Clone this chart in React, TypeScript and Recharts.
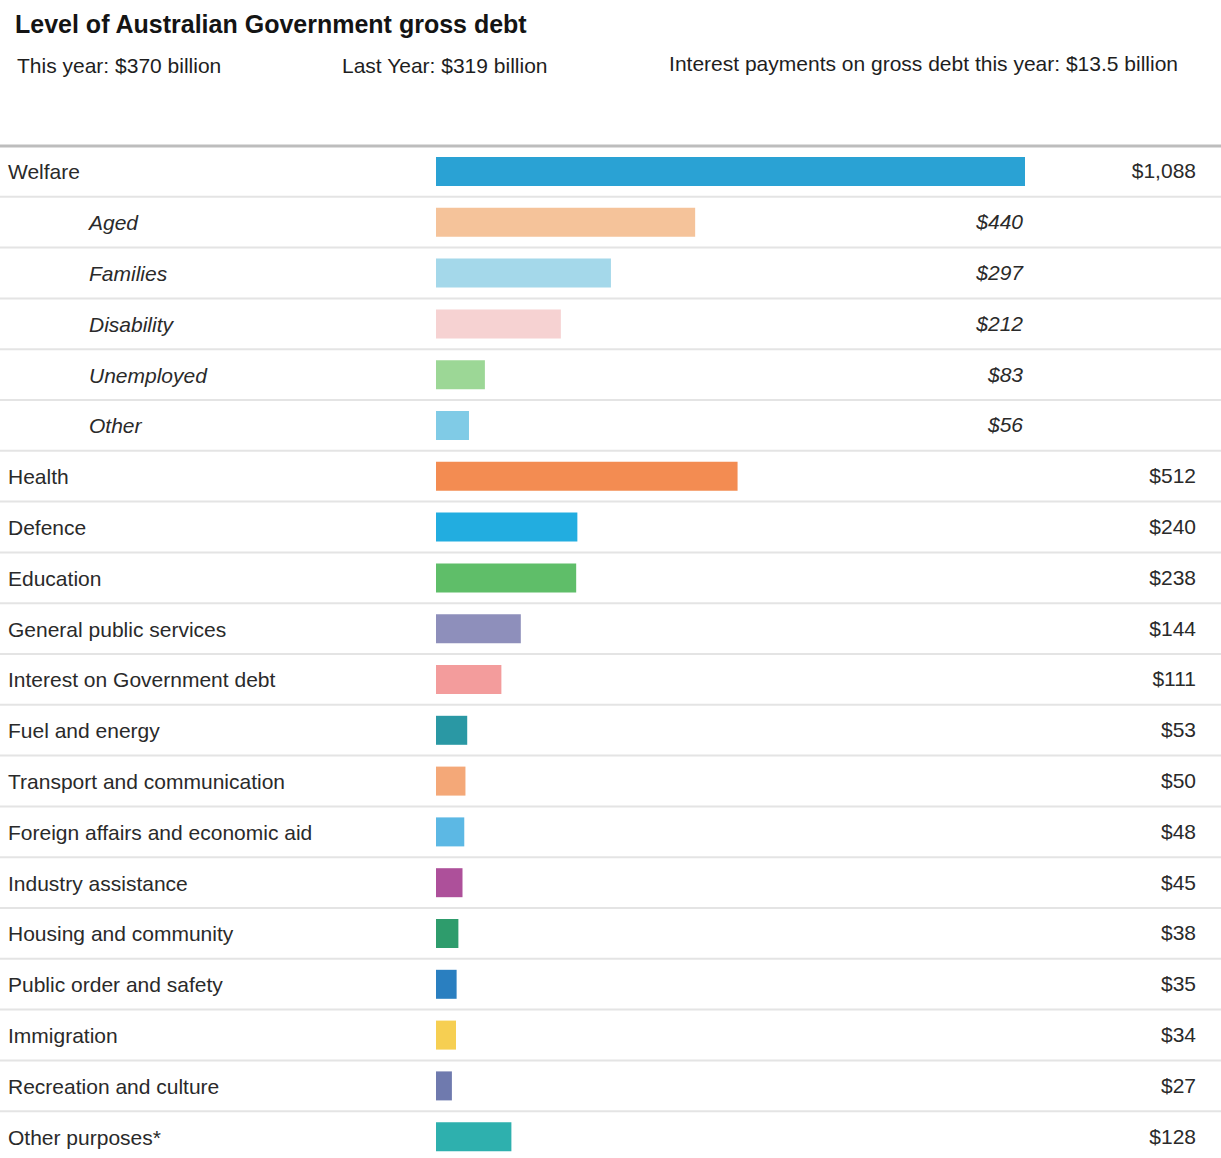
import React from 'react';
import { BarChart, Bar, XAxis, YAxis, Cell } from 'recharts';

const categories = [
  'Welfare', 'Aged', 'Families', 'Disability', 'Unemployed', 'Other',
  'Health', 'Defence', 'Education', 'General public services',
  'Interest on Government debt', 'Fuel and energy', 'Transport and communication',
  'Foreign affairs and economic aid', 'Industry assistance', 'Housing and community',
  'Public order and safety', 'Immigration', 'Recreation and culture', 'Other purposes*',
];
const values = [1088, 440, 297, 212, 83, 56, 512, 240, 238, 144, 111, 53, 50, 48, 45, 38, 35, 34, 27, 128];
const valueLabels = [
  '$1,088', '$440', '$297', '$212', '$83', '$56', '$512', '$240', '$238', '$144',
  '$111', '$53', '$50', '$48', '$45', '$38', '$35', '$34', '$27', '$128',
];
const isSub = [false, true, true, true, true, true, false, false, false, false, false, false, false, false, false, false, false, false, false, false];
const colors = [
  '#2aa2d4', '#f5c39a', '#a4d8ea', '#f6d2d2', '#9cd796', '#80cbe6',
  '#f38c52', '#22ade0', '#5fbe69', '#8e8fbb', '#f39c9c', '#2a98a4',
  '#f4a878', '#5cb8e4', '#ad509a', '#2e9c6c', '#2a7fc0', '#f6cf52',
  '#6f7aae', '#2eb0ae',
];

const headerTitle = 'Level of Australian Government gross debt';
const headerThisYear = 'This year: $370 billion';
const headerLastYear = 'Last Year: $319 billion';
const headerInterest = 'Interest payments on gross debt this year: $13.5 billion';

const data = categories.map((name, i) => ({
  name,
  value: values[i],
  label: valueLabels[i],
  sub: isSub[i],
}));

const FONT = '"Liberation Sans", Arial, Helvetica, sans-serif';
const W = 1221;
const H = 1162;

const RowTick = (props: any) => {
  const { y, payload, index } = props;
  const row = data.find((d) => d.name === payload.value) || data[index];
  const half = typeof payload.offset === 'number' && payload.offset > 0 ? payload.offset : 25.4;
  return (
    <g>
      {index === 0 && (
        <line x1={0} x2={W} y1={y - half} y2={y - half} stroke="#bdbdbd" strokeWidth={3} />
      )}
      <line x1={0} x2={W} y1={y + half} y2={y + half} stroke="#e4e4e4" strokeWidth={2} />
      <text
        x={row.sub ? 89 : 8}
        y={y + 8}
        fontFamily={FONT}
        fontSize={21}
        fontStyle={row.sub ? 'italic' : 'normal'}
        fill="#2a2a2a"
        textAnchor="start"
      >
        {payload.value}
      </text>
      <text
        x={row.sub ? 1023 : 1196}
        y={y + 7}
        fontFamily={FONT}
        fontSize={21}
        fontStyle={row.sub ? 'italic' : 'normal'}
        fill="#2a2a2a"
        textAnchor="end"
      >
        {row.label}
      </text>
    </g>
  );
};

export default function App() {
  return (
    <div style={{ position: 'absolute', left: 0, top: 0, width: W, height: 1158, overflow: 'hidden', background: '#fff' }}>
      <svg width={W} height={140} style={{ position: 'absolute', left: 0, top: 0 }}>
        <text x={15} y={33} fontFamily={FONT} fontSize={25} fontWeight="bold" fill="#141414">
          {headerTitle}
        </text>
        <text x={17} y={73} fontFamily={FONT} fontSize={21} fill="#1e1e1e">
          {headerThisYear}
        </text>
        <text x={342} y={73} fontFamily={FONT} fontSize={21} fill="#1e1e1e">
          {headerLastYear}
        </text>
        <text x={1178} y={71} fontFamily={FONT} fontSize={21} fill="#1e1e1e" textAnchor="end">
          {headerInterest}
        </text>
      </svg>
      <div style={{ position: 'absolute', left: 0, top: 0 }}>
        <BarChart
          width={W}
          height={H}
          data={data}
          layout="vertical"
          margin={{ top: 146, right: 196, bottom: 0, left: 0 }}
          barCategoryGap={0}
        >
          <XAxis type="number" domain={[0, 1000]} allowDataOverflow hide />
          <YAxis
            type="category"
            dataKey="name"
            width={436}
            interval={0}
            tickLine={false}
            axisLine={false}
            tick={<RowTick />}
          />
          <Bar dataKey="value" barSize={29} isAnimationActive={false}>
            {data.map((d, i) => (
              <Cell key={d.name} fill={colors[i]} />
            ))}
          </Bar>
        </BarChart>
      </div>
    </div>
  );
}
